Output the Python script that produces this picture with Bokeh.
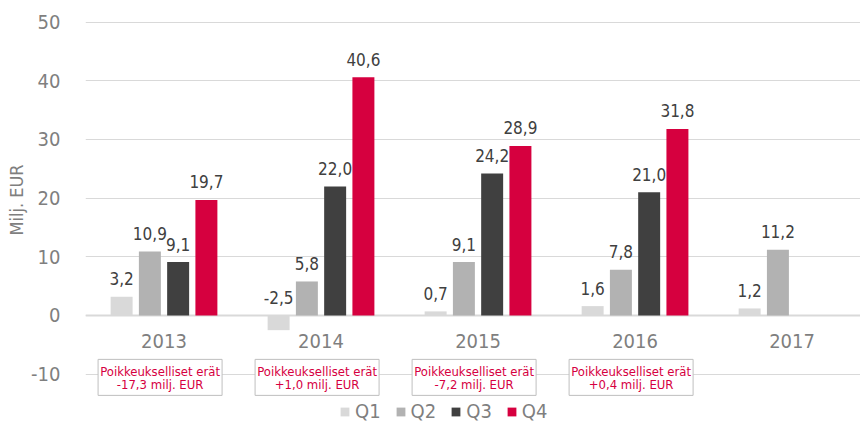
import math
from bokeh.plotting import figure
from bokeh.models import Range1d, FixedTicker, Title, Legend, LegendItem, ColumnDataSource, Span
from bokeh.core.properties import value
from bokeh.embed import file_html
from bokeh.resources import INLINE

years = ["2013", "2014", "2015", "2016", "2017"]
quarters = ["Q1", "Q2", "Q3", "Q4"]
q1 = [3.2, -2.5, 0.7, 1.6, 1.2]
q2 = [10.9, 5.8, 9.1, 7.8, 11.2]
q3 = [9.1, 22.0, 24.2, 21.0, None]
q4 = [19.7, 40.6, 28.9, 31.8, None]
series = [q1, q2, q3, q4]
y_ticks = [-10, 0, 10, 20, 30, 40, 50]
note_line1 = ["Poikkeukselliset erät"] * 4
note_line2 = ["-17,3 milj. EUR", "+1,0 milj. EUR", "-7,2 milj. EUR", "+0,4 milj. EUR"]
colors = ["#d9d9d9", "#b2b2b2", "#404040", "#d6003f"]

FONT = "DejaVu Sans Condensed"
GRAY = "#7f7f7f"

p = figure(width=860, height=423, output_backend="svg", toolbar_location=None,
           x_range=Range1d(0, 4.936), y_range=Range1d(-18.41, 53.69),
           x_axis_location=None, min_border_left=85, min_border_right=0,
           min_border_top=0, min_border_bottom=0)
p.outline_line_color = None
p.background_fill_color = "white"
p.xgrid.visible = False
p.ygrid.ticker = FixedTicker(ticks=y_ticks)
p.ygrid.grid_line_color = "#d9d9d9"
p.ygrid.grid_line_width = 1

ax = p.yaxis[0]
ax.ticker = FixedTicker(ticks=y_ticks)
ax.major_label_overrides = {t: str(t) for t in y_ticks}
ax.axis_line_color = None
ax.major_tick_line_color = None
ax.minor_tick_line_color = None
ax.major_label_standoff = 19
ax.major_label_text_font = FONT
ax.major_label_text_font_size = "20px"
ax.major_label_text_color = GRAY

zero = Span(location=0, dimension="width", line_color="#d9d9d9", line_width=2, level="underlay")
p.add_layout(zero)

offsets = [-0.27, -0.09, 0.09, 0.27]
bar_w = 0.14
items = []
for qi, (name, vals) in enumerate(zip(quarters, series)):
    xs, tops, labs, ly = [], [], [], []
    for i, v in enumerate(vals):
        if v is None:
            continue
        xs.append(i + 0.5 + offsets[qi])
        tops.append(v)
        labs.append(f"{v:.1f}".replace(".", ","))
        ly.append(max(v, 0))
    src = ColumnDataSource(dict(x=xs, top=tops, lab=labs, ly=ly))
    r = p.vbar(x="x", top="top", bottom=0, width=bar_w, source=src,
               fill_color=colors[qi], line_color=None)
    items.append(LegendItem(label=name, renderers=[r]))
    p.text(x="x", y="ly", text="lab", source=src, y_offset=-18,
           text_align="center", text_baseline="middle",
           text_font=value(FONT), text_font_size="17px", text_color="#404040")

# category labels
cat_src = ColumnDataSource(dict(x=[i + 0.5 for i in range(len(years))], y=[0] * len(years), t=years))
p.text(x="x", y="y", text="t", source=cat_src, y_offset=25.5,
       text_align="center", text_baseline="middle",
       text_font=value(FONT), text_font_size="20px", text_color=GRAY)

# note boxes
note_y = -10.55
nx = [i + 0.5 - 0.025 for i in range(len(note_line2))]
note_src = ColumnDataSource(dict(x=nx, y=[note_y] * len(nx), l1=note_line1, l2=note_line2))
p.rect(x="x", y="y", width=124, height=36, width_units="screen", height_units="screen",
       source=note_src, fill_color="white", line_color="#bfbfbf", line_width=1)
p.text(x="x", y="y", text="l1", source=note_src, y_offset=-6,
       text_align="center", text_baseline="middle",
       text_font=value(FONT), text_font_size="13px", text_color="#d6003f")
p.text(x="x", y="y", text="l2", source=note_src, y_offset=7,
       text_align="center", text_baseline="middle",
       text_font=value(FONT), text_font_size="13px", text_color="#d6003f")

# y axis title
ytitle = Title(text="Milj. EUR", align="left", offset=188, standoff=3,
               text_font=FONT, text_font_size="18px", text_color=GRAY,
               text_font_style="normal")
p.add_layout(ytitle, "left")

legend = Legend(items=items, orientation="horizontal", location=(254, 0),
                glyph_width=11, glyph_height=11, label_height=20, label_standoff=5,
                spacing=14, padding=0, margin=0,
                label_text_font=FONT, label_text_font_size="20px", label_text_color=GRAY,
                border_line_color=None, background_fill_alpha=0)
p.add_layout(legend, "center")

open("out.html", "w").write(file_html(p, INLINE))
